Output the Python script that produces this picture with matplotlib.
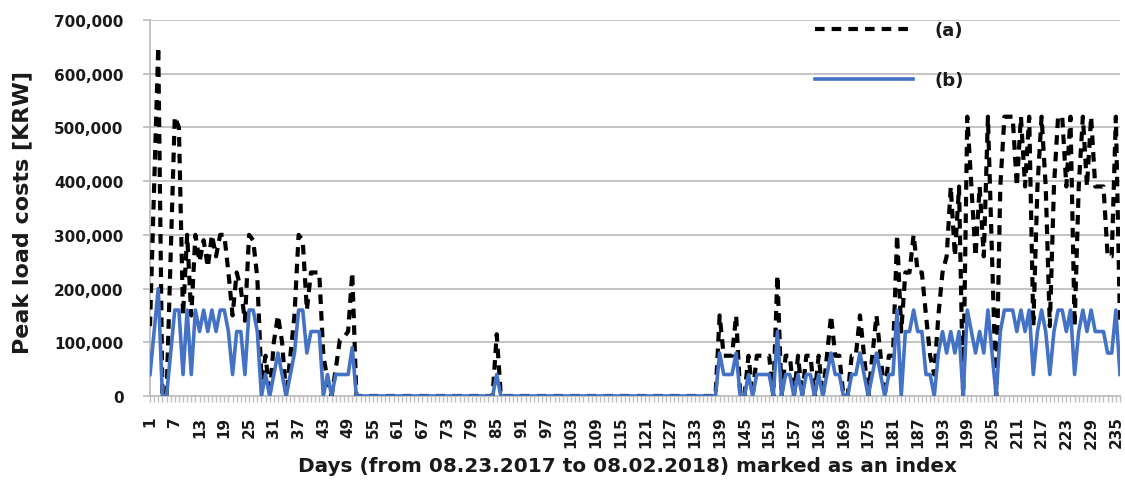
import matplotlib
matplotlib.use("Agg")
import matplotlib.pyplot as plt

# ---------------- data ----------------
days = list(range(1, 237))

# (a) peak load costs [KRW], days 1..236
series_a = [
    130000, 390000, 650000, 0, 0, 260000, 520000, 500000, 150000, 300000,      # 1-10
    150000, 300000, 250000, 290000, 240000, 300000, 260000, 300000, 300000, 230000,  # 11-20
    150000, 230000, 200000, 140000, 300000, 290000, 220000, 30000, 75000, 0,   # 21-30
    100000, 150000, 100000, 0, 75000, 150000, 300000, 290000, 160000, 230000,  # 31-40
    230000, 230000, 75000, 30000, 0, 50000, 105000, 110000, 120000, 230000,    # 41-50
    0, 0, 0, 0, 0, 0, 0, 0, 0, 0,                                              # 51-60
    0, 0, 0, 0, 0, 0, 0, 0, 0, 0,                                              # 61-70
    0, 0, 0, 0, 0, 0, 0, 0, 0, 0,                                              # 71-80
    0, 0, 0, 0, 115000, 0, 0, 0, 0, 0,                                         # 81-90
    0, 0, 0, 0, 0, 0, 0, 0, 0, 0,                                              # 91-100
    0, 0, 0, 0, 0, 0, 0, 0, 0, 0,                                              # 101-110
    0, 0, 0, 0, 0, 0, 0, 0, 0, 0,                                              # 111-120
    0, 0, 0, 0, 0, 0, 0, 0, 0, 0,                                              # 121-130
    0, 0, 0, 0, 0, 0, 0, 0, 150000, 75000,                                     # 131-140
    75000, 75000, 150000, 0, 0, 75000, 0, 75000, 75000, 75000,                 # 141-150
    75000, 0, 225000, 0, 75000, 75000, 0, 75000, 0, 75000,                     # 151-160
    75000, 0, 75000, 0, 75000, 150000, 75000, 75000, 0, 0,                     # 161-170
    75000, 75000, 150000, 75000, 0, 75000, 150000, 75000, 0, 75000,            # 171-180
    75000, 300000, 120000, 230000, 230000, 300000, 230000, 230000, 150000, 75000,  # 181-190
    40000, 150000, 230000, 260000, 390000, 260000, 390000, 0, 520000, 390000,  # 191-200
    260000, 390000, 260000, 520000, 260000, 0, 390000, 520000, 520000, 520000, # 201-210
    390000, 520000, 390000, 520000, 130000, 390000, 520000, 390000, 130000, 390000,  # 211-220
    520000, 520000, 390000, 520000, 130000, 390000, 520000, 390000, 520000, 390000,  # 221-230
    390000, 390000, 260000, 260000, 520000, 130000,                            # 231-236
]

# (b) peak load costs [KRW], days 1..236
series_b = [
    40000, 120000, 200000, 0, 0, 80000, 160000, 160000, 40000, 160000,         # 1-10
    40000, 160000, 120000, 160000, 120000, 160000, 120000, 160000, 160000, 120000,  # 11-20
    40000, 120000, 120000, 40000, 160000, 160000, 120000, 0, 40000, 0,         # 21-30
    40000, 80000, 40000, 0, 40000, 80000, 160000, 160000, 80000, 120000,       # 31-40
    120000, 120000, 0, 40000, 0, 40000, 40000, 40000, 40000, 90000,            # 41-50
    0, 0, 0, 0, 0, 0, 0, 0, 0, 0,                                              # 51-60
    0, 0, 0, 0, 0, 0, 0, 0, 0, 0,                                              # 61-70
    0, 0, 0, 0, 0, 0, 0, 0, 0, 0,                                              # 71-80
    0, 0, 0, 0, 40000, 0, 0, 0, 0, 0,                                          # 81-90
    0, 0, 0, 0, 0, 0, 0, 0, 0, 0,                                              # 91-100
    0, 0, 0, 0, 0, 0, 0, 0, 0, 0,                                              # 101-110
    0, 0, 0, 0, 0, 0, 0, 0, 0, 0,                                              # 111-120
    0, 0, 0, 0, 0, 0, 0, 0, 0, 0,                                              # 121-130
    0, 0, 0, 0, 0, 0, 0, 0, 80000, 40000,                                      # 131-140
    40000, 40000, 80000, 0, 0, 40000, 0, 40000, 40000, 40000,                  # 141-150
    40000, 0, 120000, 0, 40000, 40000, 0, 40000, 0, 40000,                     # 151-160
    40000, 0, 40000, 0, 40000, 80000, 40000, 40000, 0, 0,                      # 161-170
    40000, 40000, 80000, 40000, 0, 40000, 80000, 40000, 0, 40000,              # 171-180
    40000, 160000, 0, 120000, 120000, 160000, 120000, 120000, 40000, 40000,    # 181-190
    0, 80000, 120000, 80000, 120000, 80000, 120000, 0, 160000, 120000,         # 191-200
    80000, 120000, 80000, 160000, 80000, 0, 120000, 160000, 160000, 160000,    # 201-210
    120000, 160000, 120000, 160000, 40000, 120000, 160000, 120000, 40000, 120000,  # 211-220
    160000, 160000, 120000, 160000, 40000, 120000, 160000, 120000, 160000, 120000,  # 221-230
    120000, 120000, 80000, 80000, 160000, 40000,                               # 231-236
]

x_tick_positions = [1, 7, 13, 19, 25, 31, 37, 43, 49, 55, 61, 67, 73, 79, 85, 91,
                    97, 103, 109, 115, 121, 127, 133, 139, 145, 151, 157, 163, 169,
                    175, 181, 187, 193, 199, 205, 211, 217, 223, 229, 235]
x_tick_labels = [str(v) for v in x_tick_positions]

y_ticks = [0, 100000, 200000, 300000, 400000, 500000, 600000, 700000]
y_tick_labels = ["0", "100,000", "200,000", "300,000", "400,000",
                 "500,000", "600,000", "700,000"]

series_names = ["(a)", "(b)"]
x_title = "Days (from 08.23.2017 to 08.02.2018) marked as an index"
y_title = "Peak load costs [KRW]"

assert len(series_a) == len(days) == len(series_b)

# ---------------- figure ----------------
W, H = 1125, 481
fig = plt.figure(figsize=(W / 100, H / 100), dpi=100)
ax = fig.add_axes([150 / W, 1 - 397 / H, 970 / W, 376 / H])

grid_col = "#BFBFBF"
text_col = "#1a1a1a"

ax.plot(days, series_a, color="black", lw=3.0, linestyle=(0, (2.3, 1.7)),
        label=series_names[0], zorder=3)
ax.plot(days, series_b, color="#4472C4", lw=2.6, label=series_names[1],
        zorder=4, solid_joinstyle="round")

ax.set_xlim(1, 236)
ax.set_ylim(0, 700000)

ax.set_yticks(y_ticks)
ax.set_yticklabels(y_tick_labels)
ax.set_xticks(x_tick_positions)
ax.set_xticklabels(x_tick_labels, rotation=90)
ax.set_xticks(days, minor=True)

ax.yaxis.grid(True, color=grid_col, lw=1.3)
ax.set_axisbelow(True)
for s in ["top", "right"]:
    ax.spines[s].set_visible(False)
for s in ["left", "bottom"]:
    ax.spines[s].set_color(grid_col)
    ax.spines[s].set_linewidth(1.3)
    ax.spines[s].set_zorder(1)

ax.tick_params(axis="y", length=5, color=grid_col, width=1.3, pad=14,
               labelsize=11, labelcolor=text_col)
ax.tick_params(axis="x", which="major", length=4, color=grid_col, width=1.0,
               pad=10, labelsize=11, labelcolor=text_col)
ax.tick_params(axis="x", which="minor", length=4, color=grid_col, width=1.0)
for lab in ax.get_xticklabels() + ax.get_yticklabels():
    lab.set_fontweight("bold")

fig.text(22 / W, 1 - 212 / H, y_title, rotation=90, ha="center", va="center",
         fontsize=16, fontweight="bold", color=text_col)
fig.text(627 / W, 1 - 466 / H, x_title, ha="center", va="center",
         fontsize=14.4, fontweight="bold", color=text_col)

leg = ax.legend(loc="upper left", bbox_to_anchor=((815 - 150) / 970, (397 - 22) / 376),
                frameon=False, borderpad=0, borderaxespad=0,
                handlelength=5.4, handletextpad=1.2, labelspacing=1.8,
                prop={"weight": "bold", "size": 13})
for t in leg.get_texts():
    t.set_color(text_col)

fig.savefig("out.png", dpi=100)
